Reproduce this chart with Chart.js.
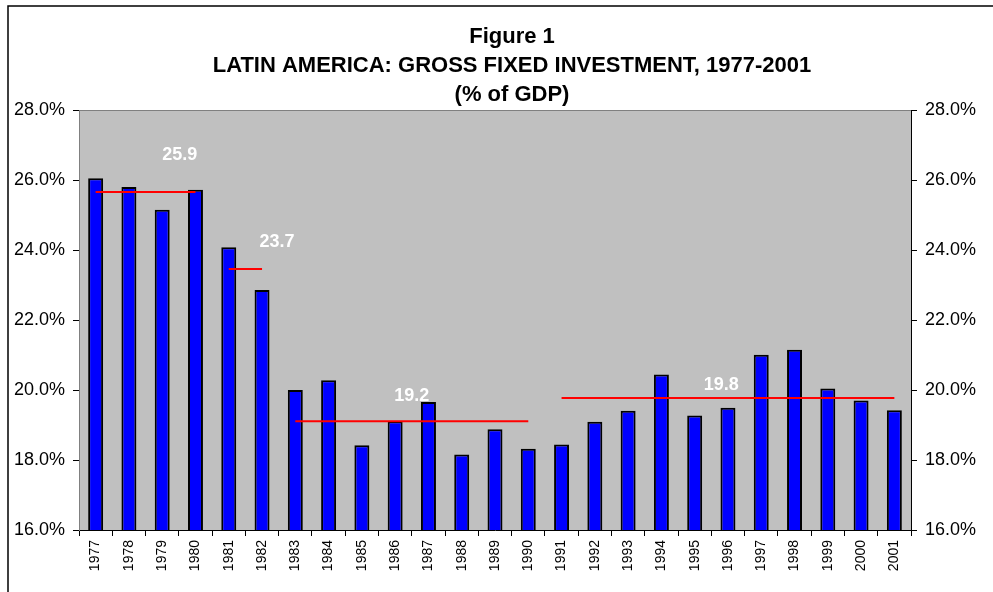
<!DOCTYPE html>
<html>
<head>
<meta charset="utf-8">
<script src="https://cdn.jsdelivr.net/npm/chart.js@4.4.0/dist/chart.umd.min.js"></script>
<style>
  html, body { margin: 0; padding: 0; background: #fff; }
  #wrap { width: 993px; height: 592px; position: relative; }
</style>
</head>
<body>
<div id="wrap"><canvas id="invest_chart"></canvas></div>
<script>
// data
const years = ['1977', '1978', '1979', '1980', '1981', '1982', '1983', '1984', '1985', '1986', '1987', '1988', '1989',
               '1990', '1991', '1992', '1993', '1994', '1995', '1996', '1997', '1998', '1999', '2000', '2001'];
const investment = [26.05, 25.8, 25.15, 25.72, 24.08, 22.86, 20.0, 20.28, 18.42, 19.11, 19.66, 18.16, 18.88,
                    18.32, 18.44, 19.09, 19.41, 20.44, 19.27, 19.49, 21.01, 21.15, 20.04, 19.7, 19.42];
const periodStart = ['1977', '1981', '1983', '1991'];
const periodEnd = ['1980', '1982', '1990', '2001'];
const periodMean = [25.66, 23.46, 19.11, 19.77];
const periodText = ['25.9', '23.7', '19.2', '19.8'];
const yTicks = [16, 18, 20, 22, 24, 26, 28];

// where the period labels sit (category index, y value)
const labelSpots = [[2.53, 26.72], [5.45, 24.24], [9.5, 19.83], [18.8, 20.15]];

const ctx = document.getElementById('invest_chart').getContext('2d');

const periodSets = periodMean.map((m, i) => {
    const a = years.indexOf(periodStart[i]);
    const b = years.indexOf(periodEnd[i]);
    return {
        type: 'line',
        label: 'Average ' + periodStart[i] + '-' + periodEnd[i],
        data: years.map((y, k) => (k >= a && k <= b) ? m : null),
        borderColor: '#ff0000',
        borderWidth: 2,
        pointRadius: 0,
        spanGaps: false,
        order: 0
    };
});

const backdrop = {
    id: 'backdrop',
    beforeDraw(chart) {
        const c = chart.ctx, a = chart.chartArea;
        c.save();
        c.fillStyle = '#c0c0c0';
        c.fillRect(a.left, a.top, a.right - a.left, a.bottom - a.top);
        c.strokeStyle = '#808080';
        c.lineWidth = 1;
        c.beginPath();
        c.moveTo(a.left, a.top + 0.5);
        c.lineTo(a.right, a.top + 0.5);
        c.stroke();
        // outer frame
        c.strokeStyle = '#000';
        c.lineWidth = 1.5;
        c.beginPath();
        c.moveTo(8, 593);
        c.lineTo(8, 6);
        c.lineTo(993, 6);
        c.stroke();
        // title
        c.fillStyle = '#000';
        c.font = 'bold 22px "Liberation Sans", Arial, sans-serif';
        c.textAlign = 'center';
        c.textBaseline = 'middle';
        c.fillText('Figure 1', 512, 37);
        c.fillText('LATIN AMERICA: GROSS FIXED INVESTMENT, 1977-2001', 512, 66);
        c.fillText('(% of GDP)', 512, 95);
        c.restore();
    },
    afterDatasetsDraw(chart) {
        const c = chart.ctx, xs = chart.scales.x, ys = chart.scales.y;
        c.save();
        c.fillStyle = '#ffffff';
        c.font = 'bold 18px "Liberation Sans", Arial, sans-serif';
        c.textAlign = 'center';
        c.textBaseline = 'middle';
        periodText.forEach((t, i) => {
            c.fillText(t, xs.getPixelForValue(labelSpots[i][0]), ys.getPixelForValue(labelSpots[i][1]));
        });
        c.restore();
    }
};

const yAxis = (pos, width, pad) => ({
    type: 'linear',
    position: pos,
    min: 16,
    max: 28,
    afterBuildTicks: s => { s.ticks = yTicks.map(v => ({ value: v })); },
    grid: { drawOnChartArea: false, drawTicks: true, tickLength: 6, color: '#000' },
    border: { color: pos === 'left' ? '#808080' : '#000', width: 1 },
    ticks: {
        padding: pad,
        color: '#000',
        font: { family: '"Liberation Sans", Arial, sans-serif', size: 18 },
        callback: v => v.toFixed(1) + '%'
    },
    afterFit: s => { s.width = width; }
});

new Chart(ctx, {
    type: 'bar',
    data: {
        labels: years,
        datasets: [
            ...periodSets,
            {
                label: 'Gross fixed investment',
                data: investment,
                backgroundColor: '#0000ff',
                borderColor: '#000000',
                borderWidth: 2,
                borderSkipped: false,
                barPercentage: 0.45,
                categoryPercentage: 1,
                order: 1
            }
        ]
    },
    options: {
        responsive: true,
        maintainAspectRatio: false,
        animation: false,
        layout: { padding: { top: 110, left: 0, right: 0, bottom: 0 } },
        plugins: {
            legend: { display: false },
            tooltip: { enabled: false }
        },
        scales: {
            x: {
                grid: { offset: true, drawOnChartArea: false, drawTicks: true, tickLength: 6, color: '#000' },
                border: { color: '#000', width: 1 },
                ticks: {
                    minRotation: 90,
                    maxRotation: 90,
                    autoSkip: false,
                    padding: 4,
                    color: '#000',
                    font: { family: '"Liberation Sans", Arial, sans-serif', size: 14 }
                },
                afterFit: s => { s.height = 62; }
            },
            y: yAxis('left', 79, 8),
            y2: yAxis('right', 82, 8)
        }
    },
    plugins: [backdrop]
});
</script>
</body>
</html>
